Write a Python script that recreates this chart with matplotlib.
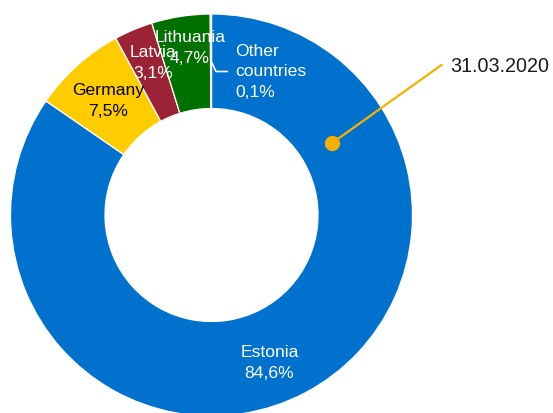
import matplotlib
matplotlib.use("Agg")
import matplotlib.pyplot as plt

plt.rcParams['font.family'] = ['Liberation Sans', 'DejaVu Sans']

countries = ["Estonia", "Germany", "Latvia", "Lithuania", "Other\ncountries"]
shares = [84.6, 7.5, 3.1, 4.7, 0.1]
share_labels = ["84,6%", "7,5%", "3,1%", "4,7%", "0,1%"]
colors = ["#0072CE", "#FFCC00", "#9B2335", "#007000", "#D2C9A8"]
text_colors = ["white", "black", "white", "white", "white"]
date_label = "31.03.2020"

W, H = 553, 413
fig = plt.figure(figsize=(W / 100, H / 100), dpi=100)
ax = fig.add_axes([0, 0, 1, 1])

def Y(y):
    return H - y

cx, cy, R = 211.5, 215.0, 201.0
inner = 106.5
ax.pie(shares, colors=colors, startangle=90, counterclock=False,
       center=(cx, Y(cy)), radius=R,
       wedgeprops=dict(width=R - inner, edgecolor='white', linewidth=0.9),
       frame=False)
ax.set_xlim(0, W)
ax.set_ylim(0, H)
ax.set_aspect('auto')
ax.axis('off')

fs = 12.6
label_pos = [(269.5, 363), (108, 101), (153, 63), (190, 48), (235, 72)]
for i, (name, pct) in enumerate(zip(countries, share_labels)):
    x, y = label_pos[i]
    ax.text(x, Y(y), name + "\n" + pct, ha='left' if i == 4 else 'center',
            va='center', fontsize=fs, color=text_colors[i], linespacing=1.42)

# leader line for small slice
ax.plot([211.5, 216, 227], [Y(62), Y(71.5), Y(71.5)], color='white', lw=1.2)

# date annotation
ax.plot([331.7, 441.5], [Y(143.3), Y(65)], color='#F5B000', lw=1.6)
ax.plot([331.7], [Y(143.3)], 'o', color='#F5B000', markersize=10)
ax.text(450.5, Y(66), date_label, ha='left', va='center', fontsize=14.2, color='#1a1a1a')

fig.savefig("out.png", dpi=100)
